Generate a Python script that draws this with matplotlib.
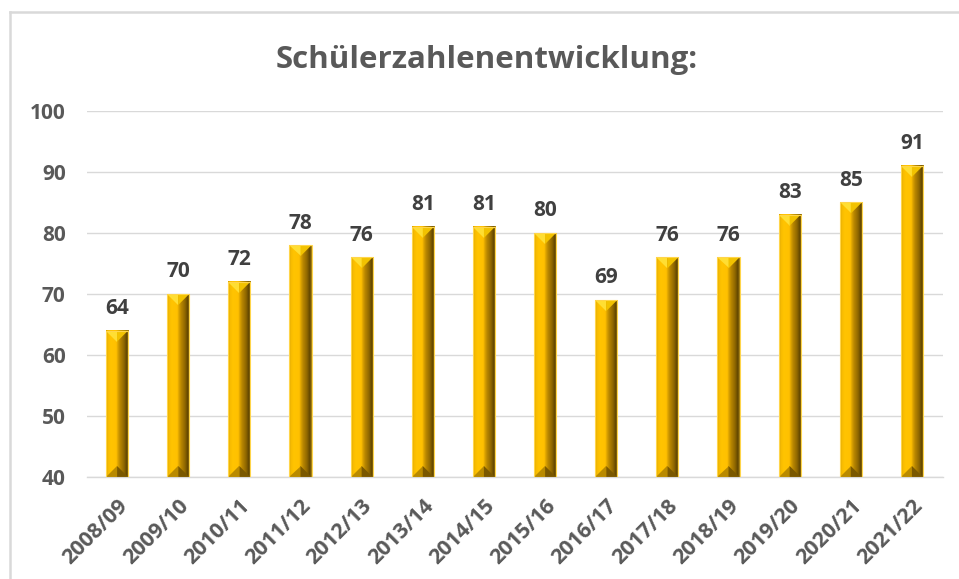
import numpy as np
import matplotlib
matplotlib.use("Agg")
import matplotlib.pyplot as plt
from matplotlib.colors import LinearSegmentedColormap
from matplotlib.patches import Polygon
from matplotlib.lines import Line2D

# school years and pupil counts
years = ["2008/09", "2009/10", "2010/11", "2011/12", "2012/13", "2013/14", "2014/15",
         "2015/16", "2016/17", "2017/18", "2018/19", "2019/20", "2020/21", "2021/22"]
pupils = [64, 70, 72, 78, 76, 81, 81, 80, 69, 76, 76, 83, 85, 91]
y_ticks = [40, 50, 60, 70, 80, 90, 100]

TITLE = "Schülerzahlenentwicklung:"
TEXT_GRAY = "#595959"
GRID_GRAY = "#d9d9d9"
BASE = 40
BAR_W = 0.36

plt.rcParams["font.family"] = ["Open Sans", "DejaVu Sans"]

fig = plt.figure(figsize=(9.59, 5.79), dpi=100)
ax = fig.add_axes([0.0902, 0.1762, 0.8926, 0.6321])

# gold bevel gradient across the bar width
gold = LinearSegmentedColormap.from_list("gold", [
    (0.00, "#d8a300"), (0.08, "#f7bb00"), (0.20, "#ffc400"), (0.45, "#ffc000"),
    (0.52, "#dba200"), (0.62, "#b88600"), (0.80, "#8c6500"), (0.92, "#5e4400"),
    (1.00, "#b38c1a")])
grad = np.linspace(0, 1, 64).reshape(1, -1)

x = np.arange(len(years))
ax.set_xlim(-0.5, len(years) - 0.5)
ax.set_ylim(BASE, 100)

# bevel depth in data units (about half the bar width on screen)
px_per_x = ax.get_position().width * fig.get_figwidth() * fig.dpi / len(years)
px_per_y = ax.get_position().height * fig.get_figheight() * fig.dpi / (100 - BASE)
bevel_h = BAR_W * px_per_x / 2 / px_per_y

for xi, v in zip(x, pupils):
    x0, x1, xc = xi - BAR_W / 2, xi + BAR_W / 2, xi
    ax.imshow(grad, cmap=gold, extent=[x0, x1, BASE, v], aspect="auto",
              interpolation="bilinear", zorder=3)
    # top bevel
    ax.add_patch(Polygon([(x0, v), (xc, v), (xc, v - bevel_h)],
                         closed=True, facecolor="#ffde33", edgecolor="none", zorder=4))
    ax.add_patch(Polygon([(xc, v), (x1, v), (xc, v - bevel_h)],
                         closed=True, facecolor="#f2c200", edgecolor="none", zorder=4))
    # bottom bevel
    ax.add_patch(Polygon([(x0, BASE), (xc, BASE), (xc, BASE + bevel_h)],
                         closed=True, facecolor="#b98a00", edgecolor="none", zorder=4))
    ax.add_patch(Polygon([(xc, BASE), (x1, BASE), (xc, BASE + bevel_h)],
                         closed=True, facecolor="#7a5800", edgecolor="none", zorder=4))
    ax.bar(xi, v - BASE, bottom=BASE, width=BAR_W, facecolor="none",
           edgecolor="#ffd54a", linewidth=0.8, zorder=5)
    ax.text(xi, v + 1.9, str(v), ha="center", va="bottom", fontsize=15,
            fontweight="bold", color="#404040", zorder=6)

ax.set_xlim(-0.5, len(years) - 0.5)
ax.set_ylim(BASE, 100)

ax.set_yticks(y_ticks)
ax.set_yticklabels([str(t) for t in y_ticks], fontsize=15, fontweight="bold",
                   color=TEXT_GRAY)
ax.set_xticks(x)
ax.set_xticklabels(years, fontsize=15.5, fontweight="bold", color=TEXT_GRAY,
                   rotation=45, ha="right", rotation_mode="anchor")
ax.tick_params(axis="both", length=0)
ax.tick_params(axis="y", pad=15)
ax.tick_params(axis="x", pad=13)

ax.grid(axis="y", color=GRID_GRAY, linewidth=1, zorder=0)
ax.set_axisbelow(True)
for side in ["top", "right", "left"]:
    ax.spines[side].set_visible(False)
ax.spines["bottom"].set_color(GRID_GRAY)
ax.spines["bottom"].set_linewidth(1)

fig.text(0.508, 0.897, TITLE, ha="center", va="center", fontsize=22.5,
         fontweight="bold", color=TEXT_GRAY)

# chart frame, top and left edges
fig.add_artist(Line2D([10 / 959, 1], [1 - 12 / 579, 1 - 12 / 579],
                      transform=fig.transFigure, color=GRID_GRAY, linewidth=1.8))
fig.add_artist(Line2D([10 / 959, 10 / 959], [0, 1 - 12 / 579],
                      transform=fig.transFigure, color=GRID_GRAY, linewidth=1.8))

fig.savefig("out.png", dpi=100, facecolor="white")
